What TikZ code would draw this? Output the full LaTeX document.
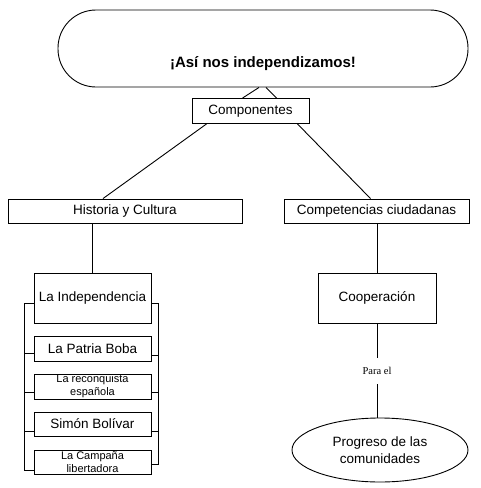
\documentclass[tikz,border=0pt]{standalone}
\usepackage{fontspec}
\setmainfont{Liberation Sans}
\newfontfamily\serifsmall{Liberation Serif}
\usetikzlibrary{shapes.geometric}
\begin{document}
\begin{tikzpicture}[x=1pt,y=-1pt,line width=0.9pt,
  box/.style={draw,rectangle,inner sep=0pt,align=center,font=\fontsize{13.5}{16}\selectfont},
  smallbox/.style={box,font=\fontsize{11}{13}\selectfont},
  titlebox/.style={draw,rectangle,rounded corners=38pt,inner ysep=0pt,inner xsep=0pt,
     minimum width=410pt,text height=57pt,text depth=20pt,font=\fontsize{15}{18}\bfseries\selectfont},
  oval/.style={draw,ellipse,inner sep=0pt,minimum width=176pt,minimum height=64pt,align=center,
     font=\fontsize{13.5}{17.5}\selectfont},
  lbl/.style={fill=white,inner xsep=2pt,minimum height=26pt,font=\serifsmall\fontsize{10.5}{12}\selectfont}]
\useasboundingbox (0,0) rectangle (480,488);
\fill[white] (0,0) rectangle (480,488);

\node[titlebox] (title) at (263,48.5) {¡Así nos independizamos!};
\node[box,minimum width=117pt,minimum height=25pt] (comp) at (250.5,111) {Componentes};
\node[box,minimum width=234pt,minimum height=24pt] (hist) at (125,211) {Historia y Cultura};
\node[box,minimum width=185pt,minimum height=24pt] (compet) at (376.5,211) {Competencias ciudadanas};
\node[box,minimum width=118pt,minimum height=50pt] (coop) at (377,298) {Cooperación};
\node[oval] (prog) at (380,450) {Progreso de las\\comunidades};

\node[box,minimum width=117pt,minimum height=50pt] (indep) at (92.5,298) {La Independencia};
\node[box,minimum width=117pt,minimum height=25pt] (patria) at (92.5,348.5) {La Patria Boba};
\node[smallbox,minimum width=117pt,minimum height=25pt] (reconq) at (92.5,386.5) {La reconquista\\española};
\node[box,minimum width=117pt,minimum height=24pt] (simon) at (92.5,424) {Simón Bolívar};
\node[smallbox,minimum width=117pt,minimum height=24pt] (campana) at (92.5,462) {La Campaña\\libertadora};

% connectors
\draw ([xshift=-4pt]title.south) -- ([xshift=-8pt]comp.north);
\draw ([xshift=3pt]title.south) -- ([xshift=26pt]comp.north);
\draw ([xshift=-44pt]comp.south) -- ([xshift=-22pt]hist.north);
\draw ([xshift=47pt]comp.south) -- ([xshift=-6pt]compet.north);
\draw (hist.south -| indep.north) -- (indep.north);
\draw (compet.south -| coop.north) -- (coop.north);
\draw (coop.south) -- node[lbl] {Para el} (coop.south |- prog.north);

% left bracket
\draw ([yshift=-5pt]indep.west) -- ++(-9pt,0) coordinate (lt)
      |- ([yshift=-8pt]campana.west);
\draw ([yshift=-5pt]patria.west) -- ++(-9pt,0);
\draw ([yshift=-6pt]reconq.west) -- ++(-9pt,0);
\draw ([yshift=-7pt]simon.west) -- ++(-9pt,0);
% right bracket
\draw ([yshift=-5pt]indep.east) -- ++(7pt,0)
      |- ([yshift=-2pt]campana.east);
\draw ([yshift=-7pt]patria.east) -- ++(7pt,0);
\draw ([yshift=-6pt]reconq.east) -- ++(7pt,0);
\draw ([yshift=-7pt]simon.east) -- ++(7pt,0);
\end{tikzpicture}
\end{document}
